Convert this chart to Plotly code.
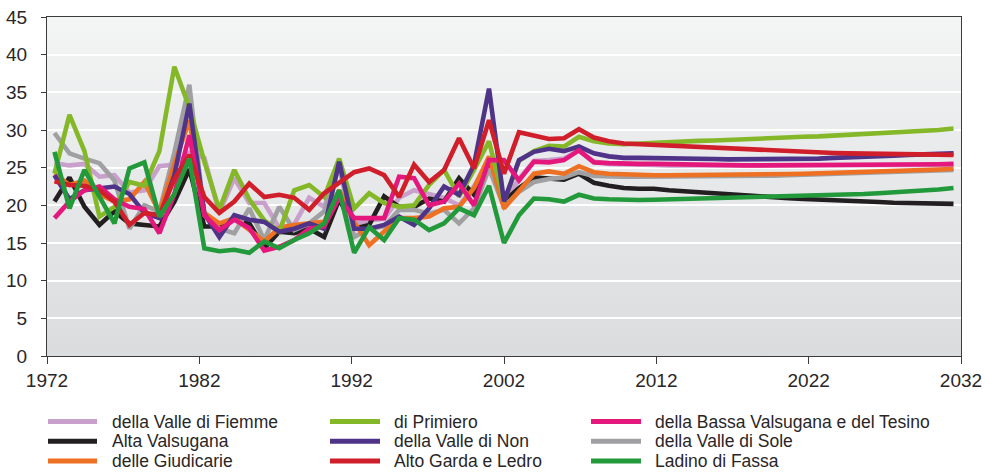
import base64
import numpy as np
import plotly.graph_objects as go

# ---------------------------------------------------------------- data
years = list(range(1972, 2033))
x_tick_labels = ["1972", "1982", "1992", "2002", "2012", "2022", "2032"]

fiemme = [25.6, 25.3, 25.5, 23.8, 24.0, 21.7, 22.0, 25.2, 25.4, 27.0,
          26.3, 19.0, 23.6, 20.3, 20.3, 17.0, 17.5, 21.0, 19.8, 25.0,
          17.5, 18.0, 18.2, 21.0, 22.0, 21.5, 21.0, 20.0, 22.5, 26.0,
          20.3, 23.5, 25.9, 26.0, 26.2, 27.3,
          25.8, 25.5, 25.4, 25.4, 25.35, 25.3, 25.3, 25.25, 25.2, 25.2,
          25.2, 25.2, 25.2, 25.2, 25.2, 25.2, 25.2, 25.2, 25.2, 25.25,
          25.25, 25.3, 25.3, 25.35, 25.4]
alta_valsugana = [20.5, 23.7, 19.8, 17.4, 19.2, 17.6, 17.4, 17.2, 20.5, 24.8,
                  17.2, 17.2, 18.3, 17.6, 14.3, 16.5, 16.3, 16.9, 15.8, 20.8,
                  16.9, 17.4, 21.2, 19.8, 19.8, 20.9, 20.5, 23.6, 21.4, 25.4,
                  20.5, 22.3, 23.7, 23.6, 23.4, 24.2,
                  23.0, 22.6, 22.3, 22.2, 22.2, 22.0, 21.85, 21.7, 21.55, 21.4,
                  21.3, 21.2, 21.05, 20.95, 20.85, 20.8, 20.7, 20.6, 20.5, 20.45,
                  20.35, 20.3, 20.25, 20.2, 20.2]
giudicarie = [24.2, 22.7, 23.3, 21.5, 20.5, 20.8, 23.1, 19.0, 25.5, 31.3,
              19.0, 17.6, 18.3, 16.7, 15.2, 17.0, 17.4, 17.6, 17.8, 22.0,
              17.8, 14.7, 16.5, 18.3, 18.3, 18.5, 19.6, 19.8, 22.3, 26.5,
              19.6, 22.0, 24.2, 24.5, 24.2, 25.2,
              24.4, 24.2, 24.1, 24.05, 24.0, 24.0, 24.0, 24.0, 24.0, 24.05,
              24.05, 24.1, 24.1, 24.15, 24.2, 24.25, 24.3, 24.35, 24.4, 24.5,
              24.55, 24.6, 24.7, 24.75, 24.85]
primiero = [24.2, 32.0, 27.2, 18.5, 19.8, 23.1, 22.6, 27.2, 38.4, 33.0,
            25.8, 19.4, 24.7, 20.8, 18.0, 16.5, 22.0, 22.7, 21.1, 26.2,
            19.6, 21.6, 20.3, 19.8, 20.0, 22.7, 24.7, 21.2, 24.7, 28.5,
            20.5, 25.9, 27.2, 27.9, 27.8, 29.1,
            28.5, 28.2, 28.1, 28.2, 28.4, 28.45, 28.5, 28.55, 28.6, 28.7,
            28.75, 28.85, 28.9, 29.0, 29.1, 29.15, 29.25, 29.35, 29.45, 29.55,
            29.65, 29.75, 29.85, 30.0, 30.2]
valle_di_non = [24.0, 20.8, 22.0, 22.3, 22.5, 21.5, 19.0, 18.3, 24.0, 33.5,
                18.9, 15.8, 18.7, 18.1, 17.8, 16.5, 16.9, 17.6, 16.9, 25.8,
                16.9, 16.9, 17.4, 18.5, 17.4, 19.6, 22.5, 21.4, 25.4, 35.5,
                20.5, 26.0, 27.1, 27.5, 27.2, 27.8,
                26.9, 26.5, 26.3, 26.3, 26.3, 26.25, 26.2, 26.2, 26.15, 26.1,
                26.1, 26.1, 26.1, 26.1, 26.15, 26.2, 26.3, 26.35, 26.45, 26.5,
                26.6, 26.7, 26.75, 26.8, 26.9]
alto_garda = [23.2, 22.7, 22.6, 22.0, 20.5, 17.4, 19.0, 18.7, 23.5, 26.7,
              21.1, 19.0, 20.5, 22.9, 21.1, 21.4, 21.0, 19.4, 21.6, 23.0,
              24.4, 24.9, 24.0, 21.1, 25.4, 23.1, 24.7, 28.9, 24.9, 31.3,
              24.2, 29.7, 29.3, 28.8, 28.9, 30.1,
              29.0, 28.5, 28.2, 28.1, 28.0, 27.9, 27.8, 27.7, 27.6, 27.5,
              27.4, 27.3, 27.2, 27.1, 27.05, 27.0, 26.95, 26.9, 26.85, 26.8,
              26.8, 26.75, 26.7, 26.7, 26.7]
bassa_valsugana = [18.3, 20.5, 22.0, 22.5, 20.8, 19.8, 19.5, 16.3, 21.5, 29.3,
                   18.7, 16.7, 18.1, 17.0, 14.0, 14.5, 15.4, 16.9, 17.2, 21.0,
                   18.3, 18.3, 18.3, 23.8, 23.6, 20.0, 20.5, 22.9, 20.0, 26.0,
                   26.0, 23.3, 25.8, 25.7, 26.0, 27.3,
                   25.7, 25.6, 25.5, 25.5, 25.5, 25.45, 25.4, 25.4, 25.35, 25.3,
                   25.3, 25.3, 25.3, 25.3, 25.3, 25.3, 25.3, 25.3, 25.3, 25.35,
                   25.35, 25.4, 25.4, 25.45, 25.5]
valle_di_sole = [29.6, 26.9, 26.2, 25.6, 23.3, 16.9, 20.0, 19.2, 27.0, 36.0,
                 18.7, 16.9, 16.3, 19.6, 15.4, 19.8, 16.7, 17.6, 19.2, 25.4,
                 15.8, 16.9, 17.2, 19.4, 19.4, 18.9, 19.4, 17.6, 19.6, 24.9,
                 19.8, 21.8, 23.1, 23.5, 23.7, 24.4,
                 23.9, 23.8, 23.8, 23.8, 23.8, 23.8, 23.8, 23.85, 23.85, 23.9,
                 23.9, 23.95, 23.95, 24.0, 24.05, 24.1, 24.15, 24.2, 24.25, 24.35,
                 24.4, 24.45, 24.55, 24.6, 24.7]
ladino_di_fassa = [27.1, 19.6, 24.7, 21.0, 17.6, 24.9, 25.7, 18.5, 21.5, 26.2,
                   14.3, 13.9, 14.1, 13.7, 15.2, 14.3, 15.4, 16.3, 17.6, 22.0,
                   13.7, 17.1, 15.4, 18.3, 18.1, 16.7, 17.6, 19.6, 18.7, 22.6,
                   15.0, 18.7, 20.9, 20.8, 20.5, 21.4,
                   20.9, 20.8, 20.7, 20.7, 20.75, 20.8, 20.85, 20.9, 20.95, 21.0,
                   21.0, 21.05, 21.1, 21.15, 21.2, 21.25, 21.3, 21.4, 21.5, 21.6,
                   21.7, 21.8, 21.9, 22.1, 22.3]

# (name, values, colour) in drawing order; later entries sit on top
series = [
    ("della Valle di Fiemme", fiemme, "#c9a0cc"),
    ("Alta Valsugana", alta_valsugana, "#231f20"),
    ("della Valle di Sole", valle_di_sole, "#a0a0a3"),
    ("delle Giudicarie", giudicarie, "#ee7023"),
    ("di Primiero", primiero, "#84b828"),
    ("della Valle di Non", valle_di_non, "#4f3389"),
    ("della Bassa Valsugana e del Tesino", bassa_valsugana, "#e4187c"),
    ("Alto Garda e Ledro", alto_garda, "#d01e2b"),
    ("Ladino di Fassa", ladino_di_fassa, "#22993a"),
]

# legend layout: three columns, read top to bottom
legend_columns = [
    ["della Valle di Fiemme", "Alta Valsugana", "delle Giudicarie"],
    ["di Primiero", "della Valle di Non", "Alto Garda e Ledro"],
    ["della Bassa Valsugana e del Tesino", "della Valle di Sole", "Ladino di Fassa"],
]

# ---------------------------------------------------------------- geometry
W, H = 985, 472
PL, PR, PT, PB = 47, 961, 17, 356          # plot box in pixels
FONT = "Liberation Sans, Arial, Helvetica, sans-serif"
TXT = "#2a2627"


def paper_x(px):
    return (px - PL) / (PR - PL)


def paper_y(py):
    return (PB - py) / (PB - PT)


fig = go.Figure()
for name, vals, col in series:
    fig.add_trace(go.Scatter(
        x=years, y=vals, mode="lines", name=name,
        line=dict(color=col, width=4.6, shape="linear"),
        showlegend=False, hoverinfo="x+y+name",
    ))

# soft vertical gradient behind the plotting area
svg = (
    "<svg xmlns='http://www.w3.org/2000/svg' width='10' height='100' "
    "preserveAspectRatio='none'><defs><linearGradient id='g' x1='0' y1='0' "
    "x2='0' y2='1'><stop offset='0' stop-color='#f3f4f4'/>"
    "<stop offset='1' stop-color='#dadcde'/></linearGradient></defs>"
    "<rect width='10' height='100' fill='url(#g)'/></svg>"
)
bg_uri = "data:image/svg+xml;base64," + base64.b64encode(svg.encode()).decode()

# custom legend: line sample + label
color_of = {n: c for n, _, c in series}
col_px = [(48, 97, 110), (330, 380, 392), (591, 641, 653)]
row_py = [421.5, 441.3, 461.1]
shapes, annotations = [], []
for (x0, x1, xt), names in zip(col_px, legend_columns):
    for py, name in zip(row_py, names):
        shapes.append(dict(
            type="line", xref="paper", yref="paper",
            x0=paper_x(x0), x1=paper_x(x1), y0=paper_y(py), y1=paper_y(py),
            line=dict(color=color_of[name], width=5),
        ))
        annotations.append(dict(
            text=name, xref="paper", yref="paper",
            x=paper_x(xt), y=paper_y(py), xanchor="left", yanchor="middle",
            showarrow=False, font=dict(family=FONT, size=17.5, color=TXT),
        ))

x_lo, x_hi = years[0] - 0.5, years[-1] + 0.5
axis_line = "#3c3a3b"

fig.update_layout(
    width=W, height=H,
    margin=dict(l=PL, r=W - PR, t=PT, b=H - PB, pad=0, autoexpand=False),
    paper_bgcolor="white",
    plot_bgcolor="rgba(0,0,0,0)",
    font=dict(family=FONT, size=19, color=TXT),
    showlegend=False,
    shapes=shapes,
    annotations=annotations,
    images=[dict(
        source=bg_uri, xref="paper", yref="paper", x=0, y=1,
        sizex=1, sizey=1, sizing="stretch", xanchor="left", yanchor="top",
        layer="below",
    )],
    xaxis=dict(
        range=[x_lo, x_hi], automargin=False,
        tickmode="array",
        tickvals=list(np.linspace(x_lo, x_hi, len(x_tick_labels))),
        ticktext=x_tick_labels,
        showgrid=False, zeroline=False,
        showline=True, mirror=True, linecolor=axis_line, linewidth=1.3,
        ticks="outside", ticklen=7, tickwidth=1.3, tickcolor=axis_line,
        tickfont=dict(family=FONT, size=19, color=TXT),
    ),
    yaxis=dict(
        range=[0, 45], tickmode="linear", tick0=0, dtick=5, automargin=False,
        showgrid=True, gridcolor="white", gridwidth=1.6,
        zeroline=False,
        showline=True, mirror=True, linecolor=axis_line, linewidth=1.3,
        ticks="outside", ticklen=5, tickwidth=1.3, tickcolor=axis_line,
        ticklabelstandoff=10,
        tickfont=dict(family=FONT, size=19, color=TXT),
    ),
)

fig.write_html("out.html")
